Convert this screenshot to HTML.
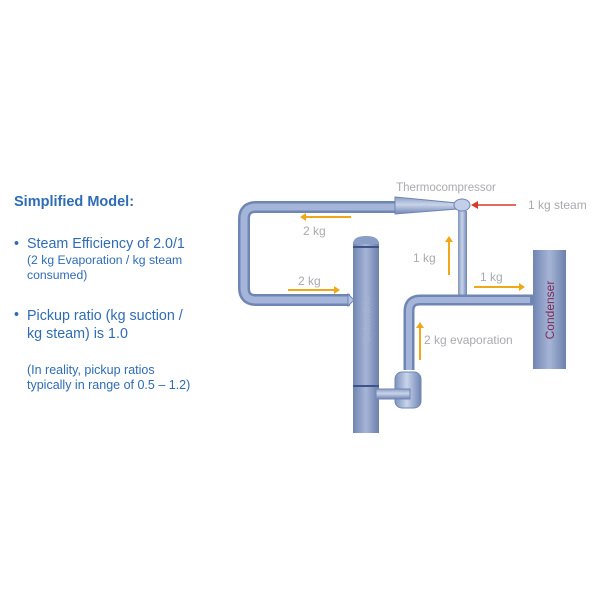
<!DOCTYPE html>
<html><head><style>
body{margin:0;width:600px;height:600px;background:#fff;overflow:hidden;font-family:"Liberation Sans",sans-serif;position:relative}
.t{position:absolute;color:#2f6cb5;white-space:nowrap}
</style></head><body>
<div class="t" style="left:14px;top:194px;font-size:14.5px;font-weight:bold">Simplified Model:</div>
<div class="t" style="left:14px;top:236px;font-size:14.3px">•</div>
<div class="t" style="left:27px;top:236px;font-size:14.3px">Steam Efficiency of 2.0/1</div>
<div class="t" style="left:27px;top:253px;font-size:12.2px;line-height:15px">(2 kg Evaporation / kg steam<br>consumed)</div>
<div class="t" style="left:14px;top:307px;font-size:14.3px">•</div>
<div class="t" style="left:27px;top:307px;font-size:14.3px;line-height:18px">Pickup ratio (kg suction /<br>kg steam) is 1.0</div>
<div class="t" style="left:27px;top:363px;font-size:12.5px;line-height:15px">(In reality, pickup ratios<br>typically in range of 0.5 – 1.2)</div>

<svg width="600" height="600" style="position:absolute;left:0;top:0" font-family="Liberation Sans, sans-serif">
<defs>
<linearGradient id="h" x1="0" y1="0" x2="0" y2="1"><stop offset="0" stop-color="#8b9ec4"/><stop offset=".45" stop-color="#c9d4ea"/><stop offset="1" stop-color="#6f85b3"/></linearGradient>
<linearGradient id="v" x1="0" y1="0" x2="1" y2="0"><stop offset="0" stop-color="#7d92bd"/><stop offset=".45" stop-color="#c9d4ea"/><stop offset="1" stop-color="#6f85b3"/></linearGradient>
<linearGradient id="c" x1="0" y1="0" x2="1" y2="0"><stop offset="0" stop-color="#7085b3"/><stop offset=".5" stop-color="#a6b5d6"/><stop offset="1" stop-color="#6c80ad"/></linearGradient>
</defs>
<path d="M400 207 H256 Q244 207 244 219 V288 Q244 300 256 300 H350" fill="none" stroke="#6f85b3" stroke-width="12"/>
<path d="M400 207 H256 Q244 207 244 219 V288 Q244 300 256 300 H350" fill="none" stroke="#a5b5d9" stroke-width="7"/>
<polygon points="348,294 354,300 348,306" fill="#b6c4e2" stroke="#6f85b3"/>
<polygon points="395,197 457,203 457,209 395,214" fill="url(#h)" stroke="#6f85b3"/>
<rect x="458" y="211" width="9" height="85" fill="url(#v)"/>
<ellipse cx="462" cy="205" rx="8" ry="6" fill="#c3cfe8" stroke="#6f85b3"/>
<path d="M409 370 V311 Q409 300 420 300 H533" fill="none" stroke="#6f85b3" stroke-width="11"/>
<path d="M409 370 V311 Q409 300 420 300 H530" fill="none" stroke="#a5b5d9" stroke-width="6"/>
<rect x="353" y="242" width="26" height="191" fill="url(#c)"/>
<path d="M353 244 Q353 236 366 236 Q379 236 379 244 Z" fill="#8a9dc6"/>
<rect x="353" y="246" width="26" height="2" fill="#3e5489"/>
<rect x="353" y="385" width="26" height="2" fill="#3e5489"/>
<text transform="translate(370,320) rotate(-90)" text-anchor="middle" font-size="11" fill="#a5b3d2">Calandria</text>
<rect x="395" y="372" width="26" height="36" rx="7" fill="url(#v)" stroke="#6f85b3"/>
<rect x="376" y="389" width="34" height="10" fill="url(#h)" stroke="#6f85b3"/>
<rect x="533" y="250" width="33" height="119" fill="url(#c)"/>
<text transform="translate(554,310) rotate(-90)" text-anchor="middle" font-size="12" fill="#7a2a55">Condenser</text>
<g stroke="#f0a818" stroke-width="2" fill="#f0a818">
<line x1="351" y1="217" x2="304" y2="217"/><polygon points="300,217 306,213 306,221" stroke="none"/>
<line x1="288" y1="290" x2="336" y2="290"/><polygon points="340,290 334,286 334,294" stroke="none"/>
<line x1="449" y1="275" x2="449" y2="240"/><polygon points="449,236 445,242 453,242" stroke="none"/>
<line x1="474" y1="287" x2="521" y2="287"/><polygon points="525,287 519,283 519,291" stroke="none"/>
<line x1="420" y1="360" x2="420" y2="326"/><polygon points="420,322 416,328 424,328" stroke="none"/>
</g>
<line x1="516" y1="205" x2="476" y2="205" stroke="#d83a2a" stroke-width="1.5"/><polygon points="471,205 478,201 478,209" fill="#d83a2a"/>
<g fill="#a9aab0" font-size="12">
<text x="446" y="191" text-anchor="middle" font-size="11.5">Thermocompressor</text>
<text x="528" y="209">1 kg steam</text>
<text x="303" y="235">2  kg</text>
<text x="298" y="285">2  kg</text>
<text x="413" y="262">1  kg</text>
<text x="480" y="281">1 kg</text>
<text x="424" y="344">2 kg evaporation</text>
</g>
</svg>
</body></html>
